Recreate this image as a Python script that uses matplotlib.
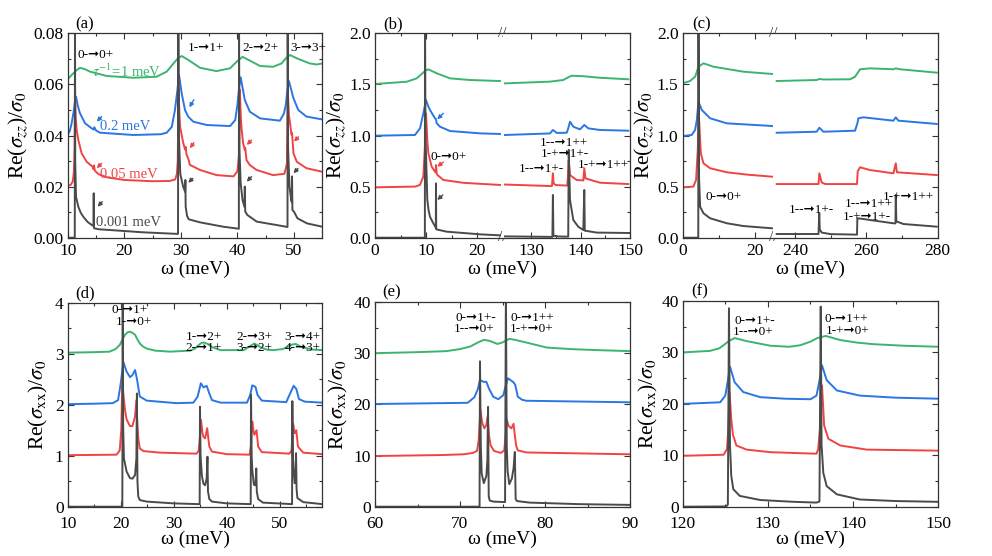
import numpy as np
import matplotlib
matplotlib.use("Agg")
import matplotlib.pyplot as plt
from matplotlib.ticker import MultipleLocator, FixedLocator, FormatStrFormatter

plt.rcParams["font.family"] = ["Liberation Serif", "DejaVu Sans"]
plt.rcParams["mathtext.fontset"] = "stix"

GREEN = "#3cb46e"
BLUE = "#2a76e2"
RED = "#f04444"
GREY = "#4a4a4a"
ARROW = "\u279e"

# ---------------- panel (a): Re(sigma_zz), omega 10-55 meV
a_green = [(10, 0.0620), (10.7, 0.0637), (11.6, 0.0656), (12.17, 0.0665), (13.0, 0.0660),
           (13.94, 0.0650), (16.9, 0.0633), (21.6, 0.0626), (25.7, 0.0630), (27.5, 0.0650),
           (28.7, 0.0682), (29.5, 0.0703), (30.15, 0.0711), (31.3, 0.0696), (33.4, 0.0665),
           (36.3, 0.0652), (38.7, 0.0663), (39.87, 0.0689), (40.9, 0.0708), (42.2, 0.0693),
           (44.0, 0.0672), (46.3, 0.0669), (47.8, 0.0682), (48.6, 0.0703), (49.3, 0.0715),
           (50.5, 0.0702), (52.8, 0.0682), (54.0, 0.0678), (55.0, 0.0682)]
a_blue = [(10, 0.0402), (10.4, 0.0420), (10.7, 0.0448), (11.1, 0.0500), (11.3, 0.0535),
          (11.47, 0.0552), (11.8, 0.0515), (12.17, 0.0487), (13.06, 0.0448), (14.24, 0.0428),
          (14.6, 0.0423), (14.7, 0.0432), (15.0, 0.0420), (15.7, 0.0411), (21.6, 0.0402),
          (26.5, 0.0405), (27.5, 0.0411), (28.4, 0.0434), (28.96, 0.0500), (29.4, 0.0580),
          (29.67, 0.0637), (30.15, 0.0565), (30.73, 0.0500), (31.3, 0.0474), (32.2, 0.0454),
          (34.6, 0.0441), (38.7, 0.0437), (39.6, 0.0460), (40.0, 0.0520), (40.3, 0.0590),
          (40.57, 0.0628), (41.3, 0.0539), (42.2, 0.0493), (44.0, 0.0467), (47.5, 0.0458),
          (48.2, 0.0485), (48.55, 0.0520), (48.85, 0.0580), (49.1, 0.0613), (49.9, 0.0546),
          (50.75, 0.0500), (52.2, 0.0474), (55.0, 0.0463)]
a_red = [(10, 0.0204), (10.5, 0.0206), (10.9, 0.0220), (11.1, 0.0260), (11.22, 0.0350),
         (11.3, 0.0570), (11.4, 0.0470), (11.6, 0.0420), (11.88, 0.0382), (12.47, 0.0330),
         (13.36, 0.0297), (14.4, 0.0278), (14.55, 0.0268), (14.65, 0.0283), (14.8, 0.0262),
         (15.5, 0.0248), (17.0, 0.0236), (20.0, 0.0226), (25.0, 0.0221), (28.0, 0.0222),
         (29.0, 0.0228), (29.3, 0.0250), (29.45, 0.0300), (29.6, 0.0580), (29.75, 0.0480),
         (29.87, 0.0434), (30.43, 0.0370), (30.75, 0.0345), (30.85, 0.0355), (31.0, 0.0325),
         (31.3, 0.0310), (31.6, 0.0285), (33.4, 0.0265), (36.3, 0.0245), (39.3, 0.0240),
         (40.0, 0.0260), (40.3, 0.0330), (40.42, 0.0580), (40.6, 0.0470), (40.75, 0.0422),
         (41.0, 0.0370), (41.3, 0.0344), (41.38, 0.0352), (41.6, 0.0304), (42.2, 0.0284),
         (43.4, 0.0265), (46.3, 0.0245), (48.3, 0.0250), (48.75, 0.0290), (48.92, 0.0565),
         (49.1, 0.0480), (49.3, 0.0448), (49.55, 0.0404), (49.65, 0.0410), (49.9, 0.0330),
         (50.5, 0.0297), (52.2, 0.0272), (55.0, 0.0258)]
a_black = [(10, 0.0), (11.25, 0.0), (11.29, 0.0900), (11.33, 0.0300), (11.47, 0.0160),
           (11.88, 0.0121), (12.3, 0.0098), (12.76, 0.0082), (13.5, 0.0062), (14.24, 0.0050),
           (14.55, 0.0046), (14.6, 0.0174), (14.65, 0.0037), (15.5, 0.0033), (17.5, 0.0030),
           (23.4, 0.0021), (29.3, 0.0015), (29.5, 0.0015), (29.55, 0.0900), (29.65, 0.0400),
           (29.9, 0.0250), (30.4, 0.0200), (30.75, 0.0180), (30.8, 0.0226), (30.85, 0.0121),
           (31.1, 0.0085), (31.4, 0.0072), (33.4, 0.0060), (37.5, 0.0043), (40.25, 0.0035),
           (40.28, 0.0900), (40.35, 0.0350), (40.57, 0.0213), (40.9, 0.0148), (41.25, 0.0120),
           (41.3, 0.0200), (41.38, 0.0102), (41.75, 0.0089), (43.4, 0.0063), (48.1, 0.0045),
           (48.85, 0.0042), (48.88, 0.0900), (48.95, 0.0350), (49.2, 0.0200), (49.5, 0.0148),
           (49.6, 0.0140), (49.65, 0.0240), (49.72, 0.0108), (50.0, 0.0102), (50.6, 0.0076),
           (52.3, 0.0056), (55.0, 0.0043)]

# ---------------- panel (b): Re(sigma_zz), broken axis 0-25 | 124-150 meV
b_green_lo = [(0, 1.504), (6.21, 1.526), (8.17, 1.559), (9.15, 1.602), (9.9, 1.635),
              (10.46, 1.648), (11.2, 1.630), (12.09, 1.609), (14.71, 1.559), (18.63, 1.543),
              (24.51, 1.533)]
b_blue_lo = [(0, 0.998), (7.84, 1.005), (8.82, 1.070), (9.48, 1.217), (10.0, 1.348),
             (10.4, 1.290), (10.78, 1.250), (11.76, 1.168), (11.96, 1.160), (12.09, 1.120),
             (12.75, 1.086), (14.71, 1.044), (20.59, 1.021), (24.51, 1.015)]
b_red_lo = [(0, 0.493), (7.84, 0.500), (8.82, 0.516), (9.48, 0.600), (9.8, 0.900),
            (10.0, 1.217), (10.26, 0.950), (10.46, 0.826), (11.11, 0.695), (11.76, 0.646),
            (11.9, 0.640), (11.96, 0.711), (12.09, 0.630), (12.22, 0.614), (13.4, 0.565),
            (17.32, 0.537), (24.51, 0.516)]
b_black_lo = [(0, 0.0), (9.78, 0.0), (9.8, 2.3), (9.9, 1.0), (10.26, 0.369), (10.5, 0.27),
              (10.78, 0.205), (11.44, 0.140), (11.83, 0.107), (11.93, 0.100), (11.96, 0.532),
              (12.0, 0.082), (14.05, 0.059), (20.59, 0.033), (24.51, 0.023)]
b_green_hi = [(124.7, 1.510), (133.8, 1.527), (136.5, 1.543), (137.5, 1.570), (138.2, 1.585),
              (140.55, 1.580), (143.93, 1.565), (149.65, 1.550)]
b_blue_hi = [(124.7, 1.005), (133.8, 1.020), (134.4, 1.054), (135.2, 1.025), (137.2, 1.027),
             (137.5, 1.070), (137.86, 1.135), (138.53, 1.086), (139.88, 1.060), (140.75, 1.103),
             (141.56, 1.070), (143.93, 1.054), (149.65, 1.047)]
b_red_hi = [(124.7, 0.520), (134.2, 0.505), (134.4, 0.630), (134.55, 0.530), (135.0, 0.515),
            (137.3, 0.510), (137.45, 0.600), (137.6, 0.760), (137.85, 0.613), (139.2, 0.565),
            (140.55, 0.560), (140.75, 0.679), (141.0, 0.580), (143.93, 0.538), (149.65, 0.525)]
b_black_hi = [(124.7, 0.013), (134.3, 0.008), (134.4, 0.418), (134.5, 0.020), (135.5, 0.012),
              (137.5, 0.010), (137.6, 0.860), (137.86, 0.369), (138.53, 0.173), (139.54, 0.107),
              (140.55, 0.075), (140.75, 0.467), (140.85, 0.069), (143.26, 0.050), (150.0, 0.046)]

# ---------------- panel (c): Re(sigma_zz), broken axis 0-25 | 234-280 meV
c_green_lo = [(0, 1.511), (2.03, 1.533), (3.42, 1.575), (4.35, 1.673), (5.73, 1.706),
              (8.5, 1.673), (16.8, 1.624), (24.7, 1.602)]
c_blue_lo = [(0, 0.995), (2.49, 1.005), (3.42, 1.054), (3.9, 1.152), (4.35, 1.331),
             (5.27, 1.250), (7.58, 1.168), (12.2, 1.119), (24.7, 1.093)]
c_red_lo = [(0, 0.493), (2.95, 0.500), (3.69, 0.565), (4.16, 0.858), (4.44, 1.217),
            (5.0, 0.826), (5.73, 0.728), (7.58, 0.679), (12.2, 0.640), (17.8, 0.617),
            (24.7, 0.597)]
c_black_lo = [(0, 0.0), (4.3, 0.0), (4.35, 2.3), (4.5, 0.6), (4.81, 0.303), (5.73, 0.239),
              (7.58, 0.190), (12.2, 0.141), (16.8, 0.114), (24.7, 0.092)]
c_green_hi = [(234.85, 1.533), (246.09, 1.543), (246.83, 1.553), (248.0, 1.548), (255.45, 1.550),
              (256.85, 1.575), (258.26, 1.648), (261.07, 1.657), (267.62, 1.648), (268.28, 1.657),
              (269.49, 1.648), (279.8, 1.615)]
c_blue_hi = [(234.85, 1.027), (246.09, 1.037), (246.83, 1.076), (247.96, 1.037), (256.85, 1.047),
             (257.51, 1.120), (257.79, 1.168), (259.19, 1.178), (267.62, 1.145), (268.28, 1.178),
             (269.03, 1.145), (279.8, 1.113)]
c_red_hi = [(234.85, 0.525), (246.6, 0.525), (246.83, 0.630), (247.49, 0.540), (248.5, 0.525),
            (257.4, 0.525), (257.6, 0.650), (258.26, 0.689), (261.07, 0.662), (267.62, 0.630),
            (268.28, 0.728), (268.6, 0.640), (279.8, 0.613)]
c_black_hi = [(234.85, 0.036), (246.6, 0.036), (246.8, 0.240), (246.95, 0.080), (247.5, 0.050),
              (250.0, 0.035), (257.4, 0.030), (257.5, 0.190), (259.19, 0.183), (261.07, 0.173),
              (267.62, 0.141), (268.2, 0.140), (268.28, 0.418), (268.45, 0.160), (270.43, 0.134),
              (279.8, 0.108)]

# ---------------- panel (d): Re(sigma_xx), omega 10-58 meV
d_green = [(10, 3.02), (15, 3.03), (17.9, 3.04), (19.0, 3.09), (19.8, 3.17), (20.3, 3.27),
           (20.8, 3.37), (21.3, 3.42), (21.75, 3.43), (22.2, 3.41), (22.7, 3.37), (23.2, 3.27),
           (23.6, 3.20), (24.2, 3.14), (24.9, 3.10), (26.5, 3.06), (29.3, 3.04), (33.1, 3.06),
           (34.0, 3.10), (34.6, 3.16), (35.2, 3.21), (35.7, 3.22), (36.4, 3.19), (37.2, 3.13),
           (38.8, 3.07), (43.2, 3.07), (44.4, 3.15), (45.2, 3.20), (46.3, 3.13), (47.5, 3.08),
           (48.8, 3.07), (50.5, 3.09), (51.6, 3.14), (52.3, 3.18), (53.0, 3.19), (54.1, 3.13),
           (56.3, 3.08), (58.0, 3.07)]
d_blue = [(10, 2.01), (15, 2.02), (18.5, 2.03), (19.5, 2.09), (20.0, 2.42), (20.5, 2.84),
          (20.8, 2.74), (21.1, 2.65), (21.75, 2.54), (22.2, 2.58), (22.7, 2.68), (23.1, 2.48),
          (23.4, 2.28), (23.6, 2.16), (24.9, 2.08), (30.5, 2.03), (33.7, 2.04), (34.5, 2.16),
          (35.1, 2.42), (35.6, 2.34), (36.2, 2.37), (36.7, 2.22), (37.2, 2.09), (38.8, 2.04),
          (43.8, 2.04), (44.4, 2.19), (44.8, 2.38), (45.4, 2.35), (45.8, 2.19), (46.6, 2.08),
          (51.2, 2.05), (51.8, 2.19), (52.6, 2.37), (53.1, 2.31), (53.6, 2.11), (54.7, 2.06),
          (58.0, 2.04)]
d_red = [(10, 1.01), (19.2, 1.02), (19.8, 1.10), (20.1, 1.50), (20.3, 2.48), (20.5, 2.20),
         (20.8, 1.90), (21.1, 1.71), (21.75, 1.58), (22.2, 1.58), (22.7, 1.77), (22.95, 2.09),
         (23.1, 1.70), (23.3, 1.34), (23.6, 1.14), (24.3, 1.09), (27.4, 1.06), (34.3, 1.04),
         (34.7, 1.10), (34.95, 1.40), (35.13, 1.70), (35.4, 1.45), (35.6, 1.37), (35.9, 1.34),
         (36.3, 1.54), (36.5, 1.35), (36.7, 1.18), (37.2, 1.08), (40.0, 1.03), (44.3, 1.02),
         (44.55, 1.20), (44.8, 1.67), (45.0, 1.50), (45.2, 1.41), (45.6, 1.50), (45.75, 1.35),
         (45.9, 1.18), (46.6, 1.07), (51.8, 1.04), (52.2, 1.10), (52.5, 1.63), (52.8, 1.44),
         (53.1, 1.50), (53.25, 1.35), (53.4, 1.18), (54.4, 1.06), (58.0, 1.03)]
d_black = [(10, 0.0), (20.3, 0.0), (20.37, 4.5), (20.45, 1.6), (20.6, 0.95), (21.1, 0.69),
           (21.75, 0.56), (22.2, 0.55), (22.7, 0.62), (22.95, 0.95), (23.05, 2.22), (23.15, 0.50),
           (23.3, 0.20), (23.6, 0.13), (24.9, 0.10), (30.0, 0.065), (34.88, 0.05), (34.94, 1.96),
           (35.05, 1.00), (35.3, 0.60), (35.6, 0.45), (35.9, 0.42), (36.2, 0.55), (36.35, 0.98),
           (36.45, 0.30), (36.7, 0.15), (37.2, 0.10), (40.0, 0.065), (44.5, 0.05), (44.56, 2.20),
           (44.68, 1.00), (44.8, 0.72), (45.1, 0.43), (45.4, 0.42), (45.55, 0.75), (45.65, 0.30),
           (45.9, 0.15), (46.8, 0.08), (52.3, 0.05), (52.35, 2.07), (52.45, 1.00), (52.6, 0.72),
           (52.8, 0.46), (52.95, 0.55), (53.05, 1.05), (53.15, 0.35), (53.3, 0.17), (54.4, 0.09),
           (58.0, 0.05)]

# ---------------- panel (e): Re(sigma_xx), omega 60-90 meV
e_green = [(60, 30.0), (65, 30.2), (68.4, 30.4), (70.0, 30.8), (71.2, 31.3), (72.0, 32.0),
           (72.8, 32.6), (73.5, 32.4), (74.4, 31.8), (75.0, 32.1), (75.8, 32.8), (76.5, 32.6),
           (78.0, 32.0), (80.2, 31.1), (83.0, 30.8), (86.1, 30.6), (90, 30.4)]
e_blue = [(60, 20.07), (70.9, 20.3), (71.7, 21.4), (72.1, 23.0), (72.35, 24.8), (72.75, 24.4),
          (73.1, 24.4), (73.4, 23.1), (73.9, 21.5), (74.5, 21.0), (75.1, 21.8), (75.35, 23.5),
          (75.65, 25.1), (76.3, 24.3), (76.5, 23.8), (76.8, 21.5), (77.3, 20.9), (77.8, 20.7),
          (82.0, 20.6), (90, 20.4)]
e_red = [(60, 9.9), (68, 10.1), (70.4, 10.24), (71.5, 10.5), (72.0, 10.9), (72.2, 13.0),
         (72.4, 18.9), (72.6, 16.5), (72.86, 15.3), (73.1, 16.0), (73.26, 17.6), (73.4, 14.0),
         (73.6, 12.0), (74.0, 10.9), (74.8, 10.5), (75.2, 11.0), (75.35, 13.5), (75.5, 17.0),
         (75.7, 15.8), (76.05, 15.3), (76.3, 16.2), (76.45, 14.0), (76.6, 12.0), (76.8, 11.0),
         (77.8, 10.6), (90, 10.24)]
e_black = [(60, 0.0), (72.3, 0.0), (72.35, 28.4), (72.45, 12.0), (72.55, 6.5), (72.8, 4.6),
           (73.1, 6.0), (73.22, 9.0), (73.3, 19.5), (73.38, 2.0), (73.5, 1.2), (73.9, 1.0),
           (75.3, 0.9), (75.4, 42.0), (75.5, 12.0), (75.6, 7.0), (75.8, 4.4), (76.1, 5.5),
           (76.3, 7.5), (76.45, 10.7), (76.55, 1.5), (76.7, 1.1), (78.2, 0.8), (84, 0.5),
           (90, 0.35)]

# ---------------- panel (f): Re(sigma_xx), omega 120-150 meV
f_green = [(120, 30.0), (123.2, 30.3), (124.3, 30.8), (124.8, 31.4), (125.4, 32.2),
           (126.1, 32.8), (127.5, 32.2), (130.3, 31.3), (132.5, 31.1), (133.8, 31.4),
           (135.0, 32.1), (135.8, 32.8), (136.8, 33.2), (138.5, 32.4), (140.5, 31.9),
           (142.4, 31.6), (146, 31.3), (150, 31.1)]
f_blue = [(120, 20.0), (124.4, 20.3), (125.0, 21.6), (125.3, 24.5), (125.55, 27.2),
          (126.1, 24.2), (127.1, 22.3), (129.1, 21.3), (132, 21.0), (135.0, 20.9),
          (135.7, 21.6), (136.05, 24.5), (136.35, 27.5), (136.9, 24.6), (138.1, 22.6),
          (140.8, 21.6), (145, 21.2), (150, 21.0)]
f_red = [(120, 9.9), (124.8, 10.1), (125.2, 11.2), (125.35, 15.0), (125.5, 22.3),
         (125.7, 17.0), (125.9, 14.0), (126.3, 11.9), (127.5, 11.1), (130.3, 10.6),
         (135.7, 10.3), (135.9, 11.2), (136.1, 15.0), (136.35, 23.6), (136.6, 15.8),
         (137.1, 13.2), (138.5, 11.9), (141.6, 11.1), (150, 10.9)]
f_black = [(120, 0.0), (125.1, 0.05), (125.3, 0.4), (125.43, 38.6), (125.55, 12.0),
           (125.7, 6.0), (125.94, 3.4), (126.7, 2.1), (129.1, 1.3), (133.0, 0.95),
           (135.7, 0.8), (136.05, 1.0), (136.2, 38.9), (136.3, 12.0), (136.5, 6.6),
           (136.9, 4.0), (138.1, 2.4), (140.8, 1.4), (145, 1.1), (150, 0.95)]

W, H = 992, 556
fig = plt.figure(figsize=(W / 100, H / 100), dpi=100)

TICK_FS = 12.5
XLAB_FS = 14
YLAB_FS = 15.5


def px_axes(left, right, top, bottom):
    return fig.add_axes([left / W, 1 - bottom / H, (right - left) / W, (bottom - top) / H])


def style(ax, left=True, right=True, xpad=4):
    ax.tick_params(which="both", direction="in", top=True, bottom=True,
                   left=left, right=right, labelsize=TICK_FS, color="#333333")
    ax.tick_params(which="major", length=4, width=0.8)
    ax.tick_params(which="minor", length=2.2, width=0.8)
    ax.tick_params(axis="x", pad=xpad)
    ax.tick_params(axis="y", pad=3)
    for s in ax.spines.values():
        s.set_linewidth(0.9)
        s.set_color("#333333")


def draw(ax, curves):
    for pts, col in curves:
        arr = np.array(pts)
        ax.plot(arr[:, 0], arr[:, 1], color=col, lw=1.4, solid_joinstyle="round")


def label(ax, x, y, txt, size=9.5, color="black"):
    ax.text(x, y, txt, ha="center", va="center", fontsize=size, color=color)


def small_arrow(ax, xh, yh, xt, yt, col):
    ax.annotate("", xy=(xh, yh), xytext=(xt, yt),
                arrowprops=dict(arrowstyle="-|>", color=col, lw=1.0,
                                mutation_scale=6, shrinkA=0, shrinkB=0))


def broken(rect_l, rect_r, top, bottom):
    axl = px_axes(rect_l[0], rect_l[1], top, bottom)
    axr = px_axes(rect_r[0], rect_r[1], top, bottom)
    style(axl, left=True, right=False)
    style(axr, left=False, right=True)
    axl.spines["right"].set_visible(False)
    axr.spines["left"].set_visible(False)
    axr.tick_params(labelleft=False)
    for yy in (0, 1):
        axl.text(1.0, yy, "//", transform=axl.transAxes, ha="center", va="center",
                 fontsize=11, color="#333333", clip_on=False)
    return axl, axr


zz_label = r"Re($\sigma_{zz}$)/$\sigma_0$"
xx_label = r"Re($\sigma_{\mathrm{xx}}$)/$\sigma_0$"

# ---- (a)
ax = px_axes(67.7, 322.3, 33.3, 237.7)
style(ax)
draw(ax, [(a_green, GREEN), (a_blue, BLUE), (a_red, RED), (a_black, GREY)])
ax.set_xlim(10, 55)
ax.set_ylim(0, 0.08)
ax.xaxis.set_major_locator(MultipleLocator(10))
ax.xaxis.set_minor_locator(MultipleLocator(5))
ax.yaxis.set_major_locator(MultipleLocator(0.02))
ax.yaxis.set_minor_locator(MultipleLocator(0.01))
ax.yaxis.set_major_formatter(FormatStrFormatter("%.2f"))
ax.set_xlabel("ω (meV)", fontsize=XLAB_FS, labelpad=1)
ax.set_ylabel(zz_label, fontsize=YLAB_FS)
ax.yaxis.set_label_coords(-0.148, 0.5)
ax.text(0.068, 1.045, "(a)", transform=ax.transAxes, ha="center", va="center", fontsize=12)
label(ax, 15.0, 0.0715, "0-" + ARROW + "0+")
label(ax, 34.4, 0.0741, "1-" + ARROW + "1+")
label(ax, 44.0, 0.0741, "2-" + ARROW + "2+")
label(ax, 52.6, 0.0741, "3-" + ARROW + "3+")
label(ax, 20.4, 0.0650, r"$\tau^{-1}$=1 meV", size=10.5, color=GREEN)
label(ax, 20.1, 0.0434, "0.2 meV", size=10.5, color=BLUE)
label(ax, 20.9, 0.0248, "0.05 meV", size=10.5, color=RED)
label(ax, 20.7, 0.0059, "0.001 meV", size=10.5, color=GREY)
small_arrow(ax, 15.12, 0.0454, 16.0, 0.0474, BLUE)
small_arrow(ax, 15.12, 0.0272, 16.0, 0.0291, RED)
small_arrow(ax, 15.3, 0.0121, 16.1, 0.0141, GREY)
small_arrow(ax, 31.5, 0.0510, 32.3, 0.0540, BLUE)
small_arrow(ax, 31.6, 0.0350, 32.3, 0.0372, RED)
small_arrow(ax, 31.3, 0.0215, 32.1, 0.0232, GREY)
small_arrow(ax, 41.64, 0.0363, 42.5, 0.0382, RED)
small_arrow(ax, 41.64, 0.0219, 42.5, 0.0239, GREY)
small_arrow(ax, 50.0, 0.0376, 50.8, 0.0395, RED)
small_arrow(ax, 49.9, 0.0252, 50.7, 0.0271, GREY)

# ---- (b)
axl, axr = broken((375, 502.5), (502.5, 630), 33.3, 237.7)
draw(axl, [(b_green_lo, GREEN), (b_blue_lo, BLUE), (b_red_lo, RED), (b_black_lo, GREY)])
draw(axr, [(b_green_hi, GREEN), (b_blue_hi, BLUE), (b_red_hi, RED), (b_black_hi, GREY)])
axl.set_xlim(0, 25)
axr.set_xlim(124.2, 150)
for a_ in (axl, axr):
    a_.set_ylim(0, 2.0)
    a_.yaxis.set_major_locator(MultipleLocator(0.5))
    a_.yaxis.set_minor_locator(MultipleLocator(0.25))
axl.yaxis.set_major_formatter(FormatStrFormatter("%.1f"))
axl.xaxis.set_major_locator(FixedLocator([0, 10, 20]))
axl.xaxis.set_minor_locator(FixedLocator([5, 15]))
axr.xaxis.set_major_locator(FixedLocator([130, 140, 150]))
axr.xaxis.set_minor_locator(FixedLocator([135, 145]))
axl.set_ylabel(zz_label, fontsize=YLAB_FS)
axl.yaxis.set_label_coords(-0.209, 0.5)
fig.text(502.5 / W, 1 - 269 / H, "ω (meV)", ha="center", va="center", fontsize=XLAB_FS)
fig.text(393 / W, 1 - 24 / H, "(b)", ha="center", va="center", fontsize=12)
label(axl, 14.5, 0.79, "0-" + ARROW + "0+")
small_arrow(axl, 12.2, 1.158, 13.4, 1.217, BLUE)
small_arrow(axl, 12.2, 0.695, 13.4, 0.740, RED)
small_arrow(axl, 12.2, 0.369, 13.3, 0.418, GREY)
label(axr, 136.6, 0.93, "1--" + ARROW + "1++")
label(axr, 136.8, 0.82, "1-+" + ARROW + "1+-")
label(axr, 132.1, 0.67, "1--" + ARROW + "1+-")
label(axr, 144.7, 0.71, "1-+" + ARROW + "1++")

# ---- (c)
axl, axr = broken((682.7, 773.3), (773.3, 937.5), 33.3, 237.7)
draw(axl, [(c_green_lo, GREEN), (c_blue_lo, BLUE), (c_red_lo, RED), (c_black_lo, GREY)])
draw(axr, [(c_green_hi, GREEN), (c_blue_hi, BLUE), (c_red_hi, RED), (c_black_hi, GREY)])
axl.set_xlim(0, 25)
axr.set_xlim(233.9, 280)
for a_ in (axl, axr):
    a_.set_ylim(0, 2.0)
    a_.yaxis.set_major_locator(MultipleLocator(0.5))
    a_.yaxis.set_minor_locator(MultipleLocator(0.25))
axl.yaxis.set_major_formatter(FormatStrFormatter("%.1f"))
axl.xaxis.set_major_locator(FixedLocator([0, 20]))
axl.xaxis.set_minor_locator(FixedLocator([10]))
axr.xaxis.set_major_locator(FixedLocator([240, 260, 280]))
axr.xaxis.set_minor_locator(FixedLocator([250, 270]))
axl.set_ylabel(zz_label, fontsize=YLAB_FS)
axl.yaxis.set_label_coords(-0.295, 0.5)
fig.text(810 / W, 1 - 269 / H, "ω (meV)", ha="center", va="center", fontsize=XLAB_FS)
fig.text(701.7 / W, 1 - 24 / H, "(c)", ha="center", va="center", fontsize=12)
label(axl, 11.2, 0.40, "0-" + ARROW + "0+")
label(axr, 244.7, 0.27, "1--" + ARROW + "1+-")
label(axr, 260.6, 0.325, "1--" + ARROW + "1++")
label(axr, 260.1, 0.205, "1-+" + ARROW + "1+-")
label(axr, 271.8, 0.40, "1-+" + ARROW + "1++")

# ---- (d)
ax = px_axes(67.7, 322.3, 302.7, 506.7)
style(ax, xpad=6.5)
draw(ax, [(d_green, GREEN), (d_blue, BLUE), (d_red, RED), (d_black, GREY)])
ax.set_xlim(10, 58)
ax.set_ylim(0, 4)
ax.xaxis.set_major_locator(MultipleLocator(10))
ax.xaxis.set_minor_locator(MultipleLocator(5))
ax.yaxis.set_major_locator(MultipleLocator(1))
ax.yaxis.set_minor_locator(MultipleLocator(0.5))
ax.set_xlabel("ω (meV)", fontsize=XLAB_FS, labelpad=-1)
ax.set_ylabel(xx_label, fontsize=YLAB_FS)
ax.yaxis.set_label_coords(-0.0695, 0.5)
ax.text(0.068, 1.045, "(d)", transform=ax.transAxes, ha="center", va="center", fontsize=12)
label(ax, 21.6, 3.85, "0-" + ARROW + "1+")
label(ax, 22.4, 3.62, "1-" + ARROW + "0+")
label(ax, 35.6, 3.33, "1-" + ARROW + "2+")
label(ax, 35.6, 3.12, "2-" + ARROW + "1+")
label(ax, 45.25, 3.33, "2-" + ARROW + "3+")
label(ax, 45.25, 3.12, "3-" + ARROW + "2+")
label(ax, 54.3, 3.33, "3-" + ARROW + "4+")
label(ax, 54.3, 3.12, "4-" + ARROW + "3+")

# ---- (e)
ax = px_axes(375, 630, 302, 506.7)
style(ax, xpad=6.5)
draw(ax, [(e_green, GREEN), (e_blue, BLUE), (e_red, RED), (e_black, GREY)])
ax.set_xlim(60, 90)
ax.set_ylim(0, 40)
ax.xaxis.set_major_locator(MultipleLocator(10))
ax.xaxis.set_minor_locator(MultipleLocator(5))
ax.yaxis.set_major_locator(MultipleLocator(10))
ax.yaxis.set_minor_locator(MultipleLocator(5))
ax.set_xlabel("ω (meV)", fontsize=XLAB_FS, labelpad=-1)
ax.set_ylabel(xx_label, fontsize=YLAB_FS)
ax.yaxis.set_label_coords(-0.098, 0.5)
ax.text(0.066, 1.045, "(e)", transform=ax.transAxes, ha="center", va="center", fontsize=12)
label(ax, 71.86, 36.9, "0-" + ARROW + "1+-")
label(ax, 71.7, 34.7, "1--" + ARROW + "0+")
label(ax, 78.5, 36.9, "0-" + ARROW + "1++")
label(ax, 78.4, 34.7, "1-+" + ARROW + "0+")

# ---- (f)
ax = px_axes(682.7, 938.3, 301, 506.7)
style(ax, xpad=6.5)
draw(ax, [(f_green, GREEN), (f_blue, BLUE), (f_red, RED), (f_black, GREY)])
ax.set_xlim(120, 150)
ax.set_ylim(0, 40)
ax.xaxis.set_major_locator(MultipleLocator(10))
ax.xaxis.set_minor_locator(MultipleLocator(5))
ax.yaxis.set_major_locator(MultipleLocator(10))
ax.yaxis.set_minor_locator(MultipleLocator(5))
ax.set_xlabel("ω (meV)", fontsize=XLAB_FS, labelpad=-1)
ax.set_ylabel(xx_label, fontsize=YLAB_FS)
ax.yaxis.set_label_coords(-0.089, 0.5)
ax.text(0.068, 1.045, "(f)", transform=ax.transAxes, ha="center", va="center", fontsize=12)
label(ax, 128.45, 36.1, "0-" + ARROW + "1+-")
label(ax, 128.3, 33.9, "1--" + ARROW + "0+")
label(ax, 139.25, 36.5, "0-" + ARROW + "1++")
label(ax, 139.4, 34.2, "1-+" + ARROW + "0+")

fig.savefig("out.png", dpi=100)
